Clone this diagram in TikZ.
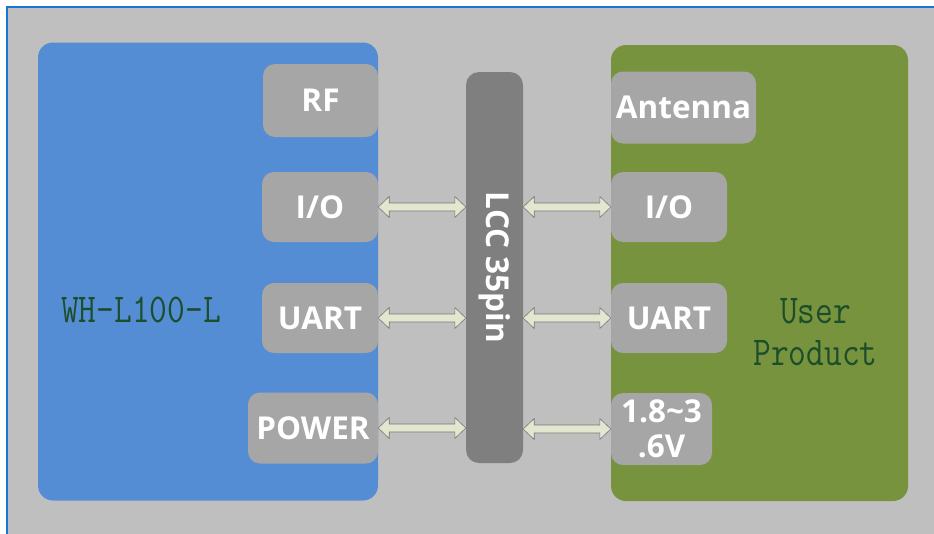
\documentclass[tikz,border=0pt]{standalone}
\usepackage{fontspec}
\newfontfamily\lblfont{Open Sans}
\usetikzlibrary{positioning,calc}

\definecolor{bggray}{RGB}{191,191,191}
\definecolor{frameblue}{RGB}{26,117,207}
\definecolor{modblue}{RGB}{85,141,213}
\definecolor{usrgreen}{RGB}{119,147,61}
\definecolor{boxgray}{RGB}{166,166,166}
\definecolor{bargray}{RGB}{127,127,127}
\definecolor{namegreen}{RGB}{28,78,44}
\definecolor{arrfill}{RGB}{226,231,208}
\definecolor{arrline}{RGB}{120,120,120}

\newcommand{\linkarrow}[2]{%
\filldraw[arrow shape] let \p1=(#1), \p2=(#2) in
  (\x1,\y1) -- (\x1+11pt,\y1+10.5pt) -- (\x1+11pt,\y1+4pt) -- (\x2-11pt,\y1+4pt)
  -- (\x2-11pt,\y1+10.5pt) -- (\x2,\y1) -- (\x2-11pt,\y1-10.5pt) -- (\x2-11pt,\y1-4pt)
  -- (\x1+11pt,\y1-4pt) -- (\x1+11pt,\y1-10.5pt) -- cycle;}
\newcommand{\namestr}[1]{\scalebox{0.84}[1]{#1}}

\begin{document}
\begin{tikzpicture}[x=1pt,y=-1pt,
  bigbox/.style={rounded corners=15pt,inner sep=0pt},
  portbox/.style={fill=boxgray,rounded corners=12pt,inner sep=0pt,text=white,
    font=\lblfont\fontsize{31.5}{34}\selectfont\bfseries},
  arrow shape/.style={fill=arrfill,draw=arrline,line width=0.6pt,line join=miter},
  title/.style={text=namegreen,align=center,
    font=\ttfamily\fontsize{41}{42}\selectfont}]
\useasboundingbox (0,0) rectangle (934,533);
\begin{scope}
\clip (0,0) rectangle (934,533);
\filldraw[fill=bggray,draw=frameblue,line width=2pt] (7,7) rectangle (945,545);
\end{scope}

\node[bigbox,fill=modblue,minimum width=340pt,minimum height=458pt] (module) at (208,271.5) {};
\node[bigbox,fill=usrgreen,minimum width=297pt,minimum height=456pt] (user) at (759.5,273) {};
\node[fill=bargray,rounded corners=13pt,minimum width=57pt,minimum height=391pt] (lcc) at (494.5,267.5) {};
\node[rotate=-90,text=white,font=\lblfont\fontsize{31.5}{34}\selectfont\bfseries] (lcctext) at (lcc) {LCC 35pin};

\node[title] (modname) at (141,310) {\namestr{WH-L100-L}};
\node[title] (usrname) at (815.5,332) {\namestr{User}\\\namestr{Product}};

\node[portbox,minimum width=115pt,minimum height=73pt] (rf) at (320.5,100.5) {RF};
\node[portbox,minimum width=116pt,minimum height=70pt] (ioL) at (320,207) {I/O};
\node[portbox,minimum width=116pt,minimum height=70pt] (uartL) at (320,318) {UART};
\node[portbox,minimum width=130pt,minimum height=71pt] (powerL) at (313,428) {POWER};

\node[portbox,minimum width=145pt,minimum height=72pt] (antenna) at (683.5,107.5) {Antenna};
\node[portbox,minimum width=116pt,minimum height=70pt] (ioR) at (669,207) {I/O};
\node[portbox,minimum width=116pt,minimum height=70pt] (uartR) at (669,318) {UART};
\node[portbox,minimum width=101pt,minimum height=72pt,align=center,
  font=\lblfont\fontsize{31.5}{35}\selectfont\bfseries] (powerR) at (661.5,429) {1.8\char`~3\\.6V};

\linkarrow{ioL.east}{lcc.west |- ioL.east}
\linkarrow{uartL.east}{lcc.west |- uartL.east}
\linkarrow{powerL.east}{lcc.west |- powerL.east}
\linkarrow{lcc.east |- ioR.west}{ioR.west}
\linkarrow{lcc.east |- uartR.west}{uartR.west}
\linkarrow{lcc.east |- powerR.west}{powerR.west}
\end{tikzpicture}
\end{document}
